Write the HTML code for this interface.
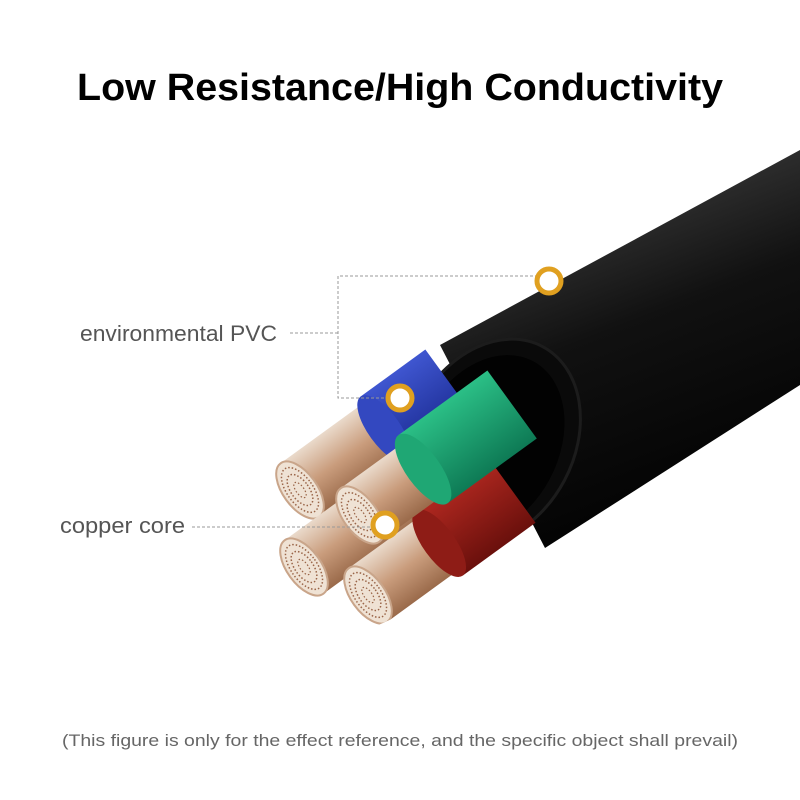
<!DOCTYPE html>
<html><head><meta charset="utf-8"><style>
html,body{margin:0;padding:0;background:#fff;}
svg{display:block;}
</style></head><body>
<svg width="800" height="800" viewBox="0 0 800 800" xmlns="http://www.w3.org/2000/svg">
<defs>
<linearGradient id="tube" x1="0" y1="0" x2="0.35" y2="1">
<stop offset="0" stop-color="#111"/><stop offset="0.3" stop-color="#2e2e2e"/><stop offset="0.55" stop-color="#111"/><stop offset="1" stop-color="#030303"/>
</linearGradient>
<linearGradient id="cu" x1="0" y1="0" x2="0" y2="1">
<stop offset="0" stop-color="#eadacb"/><stop offset="0.5" stop-color="#c99c7c"/><stop offset="1" stop-color="#9a6a4a"/>
</linearGradient>
<linearGradient id="blue" x1="0" y1="0" x2="0" y2="1"><stop offset="0" stop-color="#3f56d0"/><stop offset="1" stop-color="#1a2a90"/></linearGradient>
<linearGradient id="green" x1="0" y1="0" x2="0" y2="1"><stop offset="0" stop-color="#2bbf86"/><stop offset="1" stop-color="#0e7a55"/></linearGradient>
<linearGradient id="red" x1="0" y1="0" x2="0" y2="1"><stop offset="0" stop-color="#b02820"/><stop offset="1" stop-color="#6a100c"/></linearGradient>
<clipPath id="mouth">
<polygon points="0,0 800,0 800,800 0,800"/>
</clipPath>
<clipPath id="inner">
<path d="M0,0 H440 L440,345 L480,330 L560,360 L575,450 L545,548 L0,800 Z"/>
</clipPath>
<g id="face">
<ellipse cx="0" cy="0" rx="17" ry="33" fill="#efe2d4" stroke="#c9a58a" stroke-width="2"/>
<ellipse cx="0" cy="0" rx="13" ry="26" fill="none" stroke="#9a6548" stroke-width="1.5" stroke-dasharray="1.5 2"/>
<ellipse cx="0" cy="0" rx="9" ry="18" fill="none" stroke="#9a6548" stroke-width="1.5" stroke-dasharray="1.5 2"/>
<ellipse cx="0" cy="0" rx="4" ry="9" fill="none" stroke="#9a6548" stroke-width="1.2" stroke-dasharray="1.5 2"/>
</g>
</defs>
<text x="400" y="100" text-anchor="middle" font-family="Liberation Sans, sans-serif" font-weight="bold" font-size="38" textLength="646" lengthAdjust="spacingAndGlyphs" fill="#000">Low Resistance/High Conductivity</text>

<polygon points="440,345 800,150 800,385 545,548" fill="url(#tube)"/>
<ellipse cx="492" cy="442" rx="82" ry="108" transform="rotate(28 492 442)" fill="#0a0a0a" stroke="#1c1c1c" stroke-width="3"/>
<ellipse cx="488" cy="446" rx="70" ry="96" transform="rotate(28 488 446)" fill="#020202"/>

<g clip-path="url(#inner)">
<g transform="translate(300,490) rotate(-36)">
<rect x="0" y="-33" width="106" height="66" fill="url(#cu)"/>
<rect x="104" y="-40" width="80" height="80" fill="url(#blue)"/>
<ellipse cx="104" cy="0" rx="16" ry="40" fill="#3348c0"/>
<use href="#face"/>
</g>
<g transform="translate(304,567) rotate(-36)">
<rect x="0" y="-33" width="120" height="66" fill="url(#cu)"/>
<use href="#face"/>
</g>
<g transform="translate(368,595) rotate(-36)">
<rect x="0" y="-33" width="90" height="66" fill="url(#cu)"/>
<rect x="88" y="-40" width="90" height="80" fill="url(#red)"/>
<ellipse cx="88" cy="0" rx="16" ry="40" fill="#8e1c16"/>
<use href="#face"/>
</g>
<g transform="translate(360,515) rotate(-36)">
<rect x="0" y="-33" width="80" height="66" fill="url(#cu)"/>
<rect x="78" y="-42" width="110" height="84" fill="url(#green)"/>
<ellipse cx="78" cy="0" rx="17" ry="42" fill="#1fa774"/>
<use href="#face"/>
</g>
</g>

<g stroke="#999" stroke-width="1" stroke-dasharray="3 2" fill="none">
<polyline points="290,333 338,333"/>
<polyline points="538,276 338,276 338,398 388,398"/>
<polyline points="192,527 373,527"/>
</g>
<g fill="#fff" stroke="#e0a020" stroke-width="5">
<circle cx="549" cy="281" r="12"/>
<circle cx="400" cy="398" r="12"/>
<circle cx="385" cy="525" r="12"/>
</g>
<text x="80" y="341" font-family="Liberation Sans, sans-serif" font-size="22" textLength="197" lengthAdjust="spacingAndGlyphs" fill="#555">environmental PVC</text>
<text x="60" y="533" font-family="Liberation Sans, sans-serif" font-size="22" textLength="125" lengthAdjust="spacingAndGlyphs" fill="#555">copper core</text>
<text x="400" y="746" text-anchor="middle" font-family="Liberation Sans, sans-serif" font-size="17" textLength="676" lengthAdjust="spacingAndGlyphs" fill="#666">(This figure is only for the effect reference, and the specific object shall prevail)</text>
</svg>
</body></html>
